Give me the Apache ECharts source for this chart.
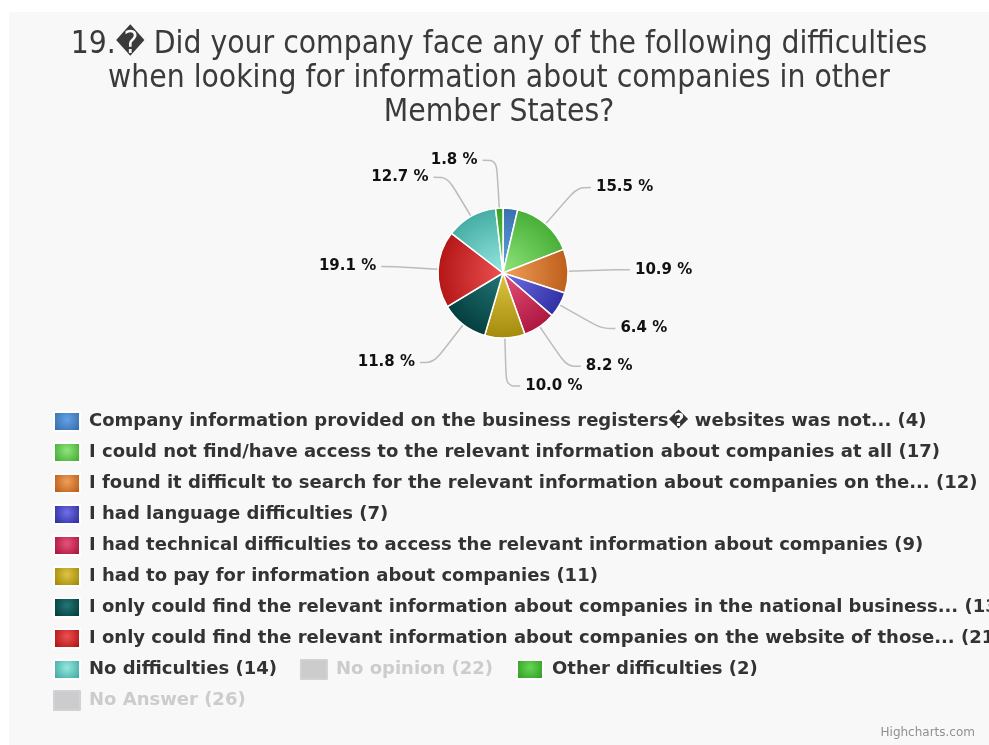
<!DOCTYPE html>
<html>
<head>
<meta charset="utf-8">
<title>Q19 difficulties</title>
<script src="https://cdn.jsdelivr.net/npm/echarts@6/dist/echarts.min.js"></script>
<style>
  html, body { margin: 0; padding: 0; background: #fff; }
  #chart { position: absolute; left: 9px; top: 12px; width: 980px; height: 733px; background: #f8f8f8; }
</style>
</head>
<body>
<div id="chart"></div>
<script>
// categories as shown in the legend (already shortened in the original)
var categories = [
    'Company information provided on the business registers\uFFFD websites was not...',
    'I could not find/have access to the relevant information about companies at all',
    'I found it difficult to search for the relevant information about companies on the...',
    'I had language difficulties',
    'I had technical difficulties to access the relevant information about companies',
    'I had to pay for information about companies',
    'I only could find the relevant information about companies in the national business...',
    'I only could find the relevant information about companies on the website of those...',
    'No difficulties',
    'No opinion',
    'Other difficulties',
    'No Answer'
];
var counts = [4, 17, 12, 7, 9, 11, 13, 21, 14, 22, 2, 26];
// series switched off in the legend
var hiddenNames = ['No opinion', 'No Answer'];

var titleLines = [
    '19.\uFFFD Did your company face any of the following difficulties',
    'when looking for information about companies in other',
    'Member States?'
];

// slice colours: light centre / dark edge
var lightColors = ['#62a2e6', '#90e57c', '#f0a05a', '#7070e6', '#e4527a', '#dcc640', '#237676', '#ec5050', '#96e8e0', '#d0d0d0', '#66d656', '#d0d0d0'];
var darkColors  = ['#3a6fae', '#46ae36', '#bd5e1a', '#3030a4', '#ad163e', '#a48a0c', '#043e3e', '#b41616', '#44aca4', '#c4c4c4', '#34a024', '#c4c4c4'];

var chart = echarts.init(document.getElementById('chart'));

var visibleTotal = 0;
counts.forEach(function (v, i) {
    if (hiddenNames.indexOf(categories[i]) < 0) visibleTotal += v;
});

var pieData = categories.map(function (name, i) {
    var item = {
        name: name,
        value: counts[i],
        itemStyle: {
            color: {
                type: 'radial', x: 494, y: 261, r: 66, global: true,
                colorStops: [{offset: 0, color: lightColors[i]}, {offset: 1, color: darkColors[i]}]
            }
        }
    };
    // the smallest first slice has no label in the original
    if (i === 0) {
        item.label = {show: false};
        item.labelLine = {show: false};
    }
    return item;
});

var legendData = categories.map(function (name, i) {
    return {
        name: name,
        itemStyle: {
            color: {
                type: 'radial', x: 0.5, y: 0.4, r: 0.7,
                colorStops: [{offset: 0, color: lightColors[i]}, {offset: 1, color: darkColors[i]}]
            }
        }
    };
});

var selected = {};
hiddenNames.forEach(function (n) { selected[n] = false; });

var option = {
    backgroundColor: '#f8f8f8',
    animation: false,
    title: [
        {
            text: titleLines.join('\n'),
            left: 'center',
            top: 11,
            textStyle: {
                fontFamily: 'DejaVu Sans Condensed',
                fontSize: 31.5,
                lineHeight: 34,
                fontWeight: 'normal',
                color: '#3a3a3a'
            }
        },
        {
            text: 'Highcharts.com',
            right: 9,
            bottom: 1,
            textStyle: {fontFamily: 'DejaVu Sans', fontSize: 12, fontWeight: 'normal', color: '#909090'}
        }
    ],
    legend: {
        data: legendData,
        selected: selected,
        orient: 'horizontal',
        left: 39,
        top: 394,
        right: 70,
        itemWidth: 26,
        itemHeight: 19,
        itemGap: 10,
        icon: 'rect',
        inactiveColor: '#cccccc',
        formatter: function (name) {
            return '{t|' + name + ' (' + counts[categories.indexOf(name)] + ')}';
        },
        textStyle: {
            fontFamily: 'DejaVu Sans',
            fontWeight: 'bold',
            fontSize: 18,
            lineHeight: 19,
            color: '#333333',
            rich: {
                t: {
                    fontFamily: 'DejaVu Sans',
                    fontWeight: 'bold',
                    fontSize: 18,
                    lineHeight: 19,
                    padding: [0, 13, 0, 4]
                }
            }
        }
    },
    series: [
        {
            type: 'pie',
            center: [494, 261],
            radius: 65,
            startAngle: 90,
            clockwise: true,
            data: pieData,
            itemStyle: {borderColor: '#ffffff', borderWidth: 1.5},
            label: {
                show: true,
                position: 'outside',
                fontFamily: 'DejaVu Sans',
                fontWeight: 'bold',
                fontSize: 15,
                color: '#111111',
                formatter: function (p) {
                    return (p.value / visibleTotal * 100).toFixed(1) + ' %';
                }
            },
            labelLine: {
                show: true,
                length: 48,
                length2: 14,
                smooth: 0.35,
                lineStyle: {color: '#bcbcbc', width: 1.5}
            },
            emphasis: {disabled: true}
        }
    ]
};

chart.setOption(option);
</script>
</body>
</html>
